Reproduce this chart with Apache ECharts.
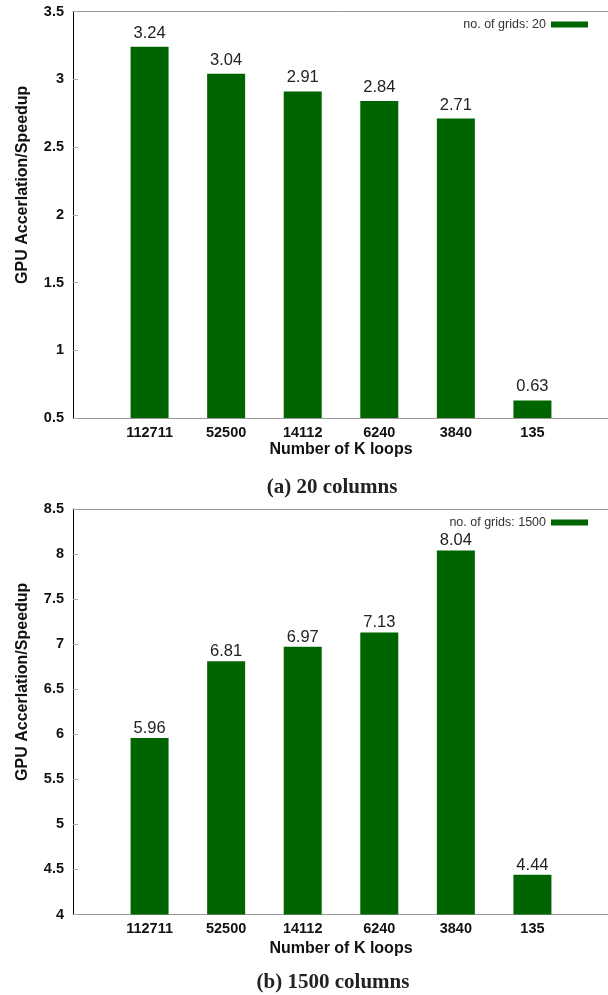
<!DOCTYPE html>
<html>
<head>
<meta charset="utf-8">
<script src="https://cdn.jsdelivr.net/npm/echarts@6/dist/echarts.min.js"></script>
<style>
html,body{margin:0;padding:0;background:#fff;}
#c{width:608px;height:995px;}
</style>
</head>
<body>
<div id="c"></div>
<script>
const categories = ['112711', '52500', '14112', '6240', '3840', '135'];
const speedup20 = [3.24, 3.04, 2.91, 2.84, 2.71, 0.63];
const speedup1500 = [5.96, 6.81, 6.97, 7.13, 8.04, 4.44];
const seriesNames = ['no. of grids: 20', 'no. of grids: 1500'];
const captions = ['(a) 20 columns', '(b) 1500 columns'];
const yTitle = 'GPU Accerlation/Speedup';
const xTitle = 'Number of K loops';

const FONT = '"Liberation Sans", Arial, sans-serif';
const GREEN = '#006400';

function toPoints(vals) { return vals.map((v, i) => [i + 1, v]); }

function xAxisCfg(gi, gap) {
  return {
    type: 'value', gridIndex: gi, min: 0, max: 7, interval: 1,
    axisLine: { show: true, lineStyle: { color: '#999', width: 1 } },
    axisTick: { show: false },
    splitLine: { show: false },
    axisLabel: {
      margin: 7,
      color: '#111', fontFamily: FONT, fontSize: 14.5, fontWeight: 'bold',
      showMinLabel: true, showMaxLabel: true,
      formatter: v => (v >= 1 && v <= categories.length) ? categories[v - 1] : ''
    },
    name: xTitle, nameLocation: 'middle', nameGap: gap,
    nameTextStyle: { color: '#111', fontFamily: FONT, fontSize: 16, fontWeight: 'bold' }
  };
}
function xTopCfg(gi) {
  return {
    type: 'value', gridIndex: gi, position: 'top', min: 0, max: 7, interval: 1,
    axisLine: { show: true, lineStyle: { color: '#999', width: 1 } },
    axisTick: { show: false }, axisLabel: { show: false }, splitLine: { show: false }
  };
}
function yAxisCfg(gi, min, max) {
  return {
    type: 'value', gridIndex: gi, min: min, max: max, interval: 0.5,
    axisLine: { show: true, lineStyle: { color: '#000', width: 1 } },
    axisTick: { show: true, inside: true, length: 5, lineStyle: { color: '#aaa' } },
    splitLine: { show: false },
    axisLabel: { margin: 9, color: '#111', fontFamily: FONT, fontSize: 14.5, fontWeight: 'bold' },
    name: yTitle, nameLocation: 'middle', nameGap: 42, nameRotate: 90,
    nameTextStyle: { color: '#111', fontFamily: FONT, fontSize: 16, fontWeight: 'bold', padding: [0, 0, 0, 60] }
  };
}
function barSeries(name, vals, gi, dist) {
  return {
    type: 'bar', name: name, xAxisIndex: gi * 2, yAxisIndex: gi,
    data: toPoints(vals), barWidth: 38, clip: true,
    itemStyle: { color: GREEN },
    label: {
      show: true, position: 'top', distance: dist,
      color: '#222', fontFamily: FONT, fontSize: 16.5,
      formatter: p => p.value[1].toFixed(2)
    }
  };
}

const chart = echarts.init(document.getElementById('c'), null, { renderer: 'canvas' });
chart.setOption({
  animation: false,
  backgroundColor: '#fff',
  grid: [
    { left: 73, top: 11.5, width: 536, height: 406.5, show: false, outerBoundsMode: 'none', containLabel: false },
    { left: 73, top: 509, width: 536, height: 405.5, show: false, outerBoundsMode: 'none', containLabel: false }
  ],
  legend: [
    { data: [seriesNames[0]], right: 15, top: 13, orient: 'vertical', align: 'right', itemWidth: 37, itemHeight: 6, icon: 'rect',
      textStyle: { color: '#333', fontFamily: FONT, fontSize: 12.5 } },
    { data: [seriesNames[1]], right: 15, top: 511, orient: 'vertical', align: 'right', itemWidth: 37, itemHeight: 6, icon: 'rect',
      textStyle: { color: '#333', fontFamily: FONT, fontSize: 12.5 } }
  ],
  xAxis: [xAxisCfg(0, 24), xTopCfg(0), xAxisCfg(1, 26), xTopCfg(1)],
  yAxis: [yAxisCfg(0, 0.5, 3.5), yAxisCfg(1, 4, 8.5)],
  series: [barSeries(seriesNames[0], speedup20, 0, 5), barSeries(seriesNames[1], speedup1500, 1, 1)],
  graphic: [
    { type: 'text', x: 332, y: 488, style: { text: captions[0], textAlign: 'center', textVerticalAlign: 'middle', fill: '#222', font: 'bold 21px "Liberation Serif", "DejaVu Serif", serif' } },
    { type: 'text', x: 333, y: 983, style: { text: captions[1], textAlign: 'center', textVerticalAlign: 'middle', fill: '#222', font: 'bold 21px "Liberation Serif", "DejaVu Serif", serif' } }
  ]
});
</script>
</body>
</html>
